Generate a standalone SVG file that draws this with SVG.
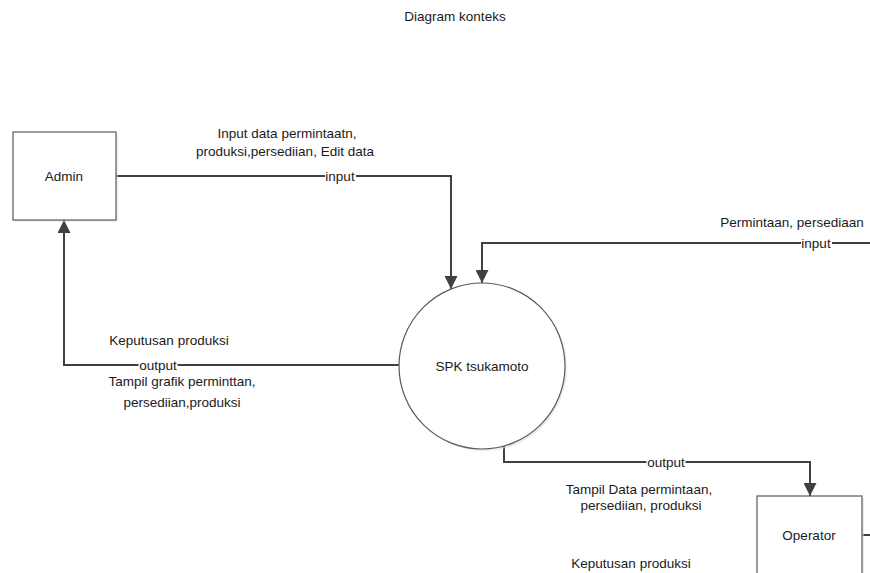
<svg xmlns="http://www.w3.org/2000/svg" width="870" height="573" viewBox="0 0 870 573">
<style>
  text { font-family: "Liberation Sans", "Noto Sans", Arial, sans-serif; font-size: 13.5px; fill: #1a1a1a; text-anchor: middle; }
  .node { fill: #ffffff; stroke: #5a5a5a; stroke-width: 1.2; }
  .shadow { fill: #d9d9d9; opacity: 0.5; }
  .conn { fill: none; stroke: #404040; stroke-width: 2; }
  .lblbg { fill: #ffffff; }
</style>
<defs>
  <marker id="arrow" markerUnits="userSpaceOnUse" markerWidth="13" markerHeight="13" viewBox="0 0 13 13" refX="13" refY="6.5" orient="auto">
    <path d="M0,0 L13,6.5 L0,13 Z" fill="#404040"/>
  </marker>
</defs>
<rect width="870" height="573" fill="#ffffff"/>

<g id="title"><text x="455" y="21">Diagram konteks</text></g>

<g id="connectors">
  <path class="conn" d="M116,176 H451 V289" marker-end="url(#arrow)"/>
  <path class="conn" d="M870,243 H482 V283" marker-end="url(#arrow)"/>
  <path class="conn" d="M399,365 H64 V220" marker-end="url(#arrow)"/>
  <path class="conn" d="M504,446 V462 H810 V496" marker-end="url(#arrow)"/>
  <path class="conn" d="M862,535 H870"/>
  <rect class="lblbg" x="325" y="168" width="31" height="16"/>
  <text x="340" y="181">input</text>
  <rect class="lblbg" x="801" y="235" width="31" height="16"/>
  <text x="816" y="248">input</text>
  <rect class="lblbg" x="138.5" y="357" width="39" height="16"/>
  <text x="158" y="370">output</text>
  <rect class="lblbg" x="646.5" y="454" width="39" height="16"/>
  <text x="666" y="467">output</text>
  <text x="287" y="138">Input data permintaatn,</text>
  <text x="285" y="156">produksi,persediian, Edit data</text>
  <text x="792" y="227">Permintaan, persediaan</text>
  <text x="169" y="345">Keputusan produksi</text>
  <text x="182" y="386">Tampil grafik perminttan,</text>
  <text x="182" y="407">persediian,produksi</text>
  <text x="639" y="494">Tampil Data permintaan,</text>
  <text x="641" y="510">persediian, produksi</text>
  <text x="631" y="568">Keputusan produksi</text>
</g>

<g id="admin">
  <rect class="shadow" x="15" y="134" width="103" height="88"/>
  <rect class="node" x="13" y="132" width="103" height="88"/>
  <text x="64" y="181">Admin</text>
</g>

<g id="spk">
  <circle class="shadow" cx="484" cy="368" r="83"/>
  <circle class="node" cx="482" cy="366" r="83"/>
  <text x="482" y="371">SPK tsukamoto</text>
</g>

<g id="operator">
  <rect class="shadow" x="759" y="498" width="105" height="80"/>
  <rect class="node" x="757" y="496" width="105" height="82"/>
  <text x="809" y="540">Operator</text>
</g>
</svg>
